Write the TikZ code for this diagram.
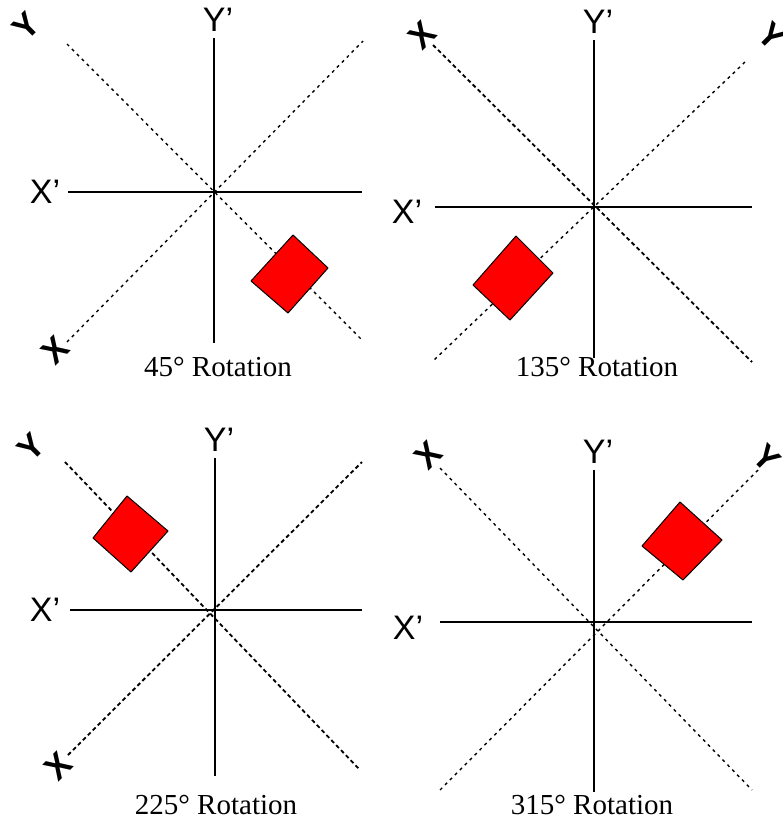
\documentclass[tikz,border=0pt]{standalone}
\usepackage{fontspec}
\usepackage{graphicx}
\setmainfont{Liberation Serif}
\newfontfamily\axfont{Liberation Sans}
\newcommand{\ccwglyph}[1]{\rotatebox[origin=c]{45}{#1}}
\newcommand{\cwglyph}[1]{\rotatebox[origin=c]{-45}{#1}}
\begin{document}
\begin{tikzpicture}[x=1pt,y=-1pt,
  axis/.style={line width=1.2pt,black},
  diaglight/.style={line width=1.4pt,dash pattern=on 3pt off 4pt},
  diagheavy/.style={line width=1.8pt,dash pattern=on 4pt off 3pt},
  axlabel/.style={font=\axfont\fontsize{34}{34}\selectfont,inner sep=0pt},
  glyph/.style={font=\axfont\bfseries\fontsize{34}{34}\selectfont,inner sep=0pt},
  caption/.style={font=\fontsize{29}{29}\selectfont,inner sep=0pt},
  block/.style={fill=red,draw=black,line width=1pt,line join=round}]
\useasboundingbox (0,0) rectangle (783,828);

% ---------- Panel 1: 45 deg ----------
\coordinate (a1t) at (214,38);  \coordinate (a1b) at (214,343);
\coordinate (a1l) at (68,192);  \coordinate (a1r) at (362,192);
\coordinate (d1a) at (67,44);   \coordinate (d1b) at (362,340);
\coordinate (d1c) at (67,342);  \coordinate (d1d) at (363,41);
\draw[axis] (a1t) -- (a1b);
\draw[axis] (a1l) -- (a1r);
\draw[diaglight] (d1a) -- (d1b);
\draw[diaglight] (d1c) -- (d1d);
\node[axlabel] (x1) at (45,192) {X’};
\node[axlabel] (y1) at (218,20) {Y’};
\node[glyph] (g1y) at (26,26) {\ccwglyph{Y}};
\node[glyph] (g1x) at (55,350) {\ccwglyph{X}};
\draw[block] (293,235) -- (328,268) -- (288,313) -- (251,281) -- cycle;
\node[caption] (c1) at (218,367) {45° Rotation};

% ---------- Panel 2: 135 deg ----------
\coordinate (a2t) at (594,40);  \coordinate (a2b) at (594,358);
\coordinate (a2l) at (435,207); \coordinate (a2r) at (752,207);
\coordinate (d2a) at (433,45);  \coordinate (d2b) at (752,362);
\coordinate (d2c) at (745,62);  \coordinate (d2d) at (432,362);
\draw[axis] (a2t) -- (a2b);
\draw[axis] (a2l) -- (a2r);
\draw[diagheavy] (d2a) -- (d2b);
\draw[diaglight] (d2c) -- (d2d);
\node[axlabel] (x2) at (407,212) {X’};
\node[axlabel] (y2) at (598,22) {Y’};
\node[glyph] (g2x) at (422,35) {\ccwglyph{X}};
\node[glyph] (g2y) at (772,36) {\cwglyph{Y}};
\draw[block] (516,236) -- (553,273) -- (510,320) -- (473,285) -- cycle;
\node[caption] (c2) at (597,367) {135° Rotation};

% ---------- Panel 3: 225 deg ----------
\coordinate (a3t) at (215,458); \coordinate (a3b) at (215,776);
\coordinate (a3l) at (70,610);  \coordinate (a3r) at (362,610);
\coordinate (d3a) at (65,462);  \coordinate (d3b) at (360,770);
\coordinate (d3c) at (68,755);  \coordinate (d3d) at (362,462);
\draw[axis] (a3t) -- (a3b);
\draw[axis] (a3l) -- (a3r);
\draw[diagheavy] (d3a) -- (d3b);
\draw[diagheavy] (d3c) -- (d3d);
\node[axlabel] (x3) at (45,610) {X’};
\node[axlabel] (y3) at (219,440) {Y’};
\node[glyph] (g3y) at (31,447) {\ccwglyph{Y}};
\node[glyph] (g3x) at (58,766) {\ccwglyph{X}};
\draw[block] (127,496) -- (168,531) -- (131,572) -- (93,538) -- cycle;
\node[caption] (c3) at (216,805) {225° Rotation};

% ---------- Panel 4: 315 deg ----------
\coordinate (a4t) at (594,470); \coordinate (a4b) at (594,792);
\coordinate (a4l) at (440,622); \coordinate (a4r) at (752,622);
\coordinate (d4a) at (440,468); \coordinate (d4b) at (752,790);
\coordinate (d4c) at (758,470); \coordinate (d4d) at (440,790);
\draw[axis] (a4t) -- (a4b);
\draw[axis] (a4l) -- (a4r);
\draw[diaglight] (d4a) -- (d4b);
\draw[diaglight] (d4c) -- (d4d);
\node[axlabel] (x4) at (408,628) {X’};
\node[axlabel] (y4) at (598,452) {Y’};
\node[glyph] (g4x) at (428,455) {\ccwglyph{X}};
\node[glyph] (g4y) at (767,458) {\cwglyph{Y}};
\draw[block] (680,502) -- (722,540) -- (683,580) -- (642,546) -- cycle;
\node[caption] (c4) at (592,805) {315° Rotation};
\end{tikzpicture}
\end{document}
